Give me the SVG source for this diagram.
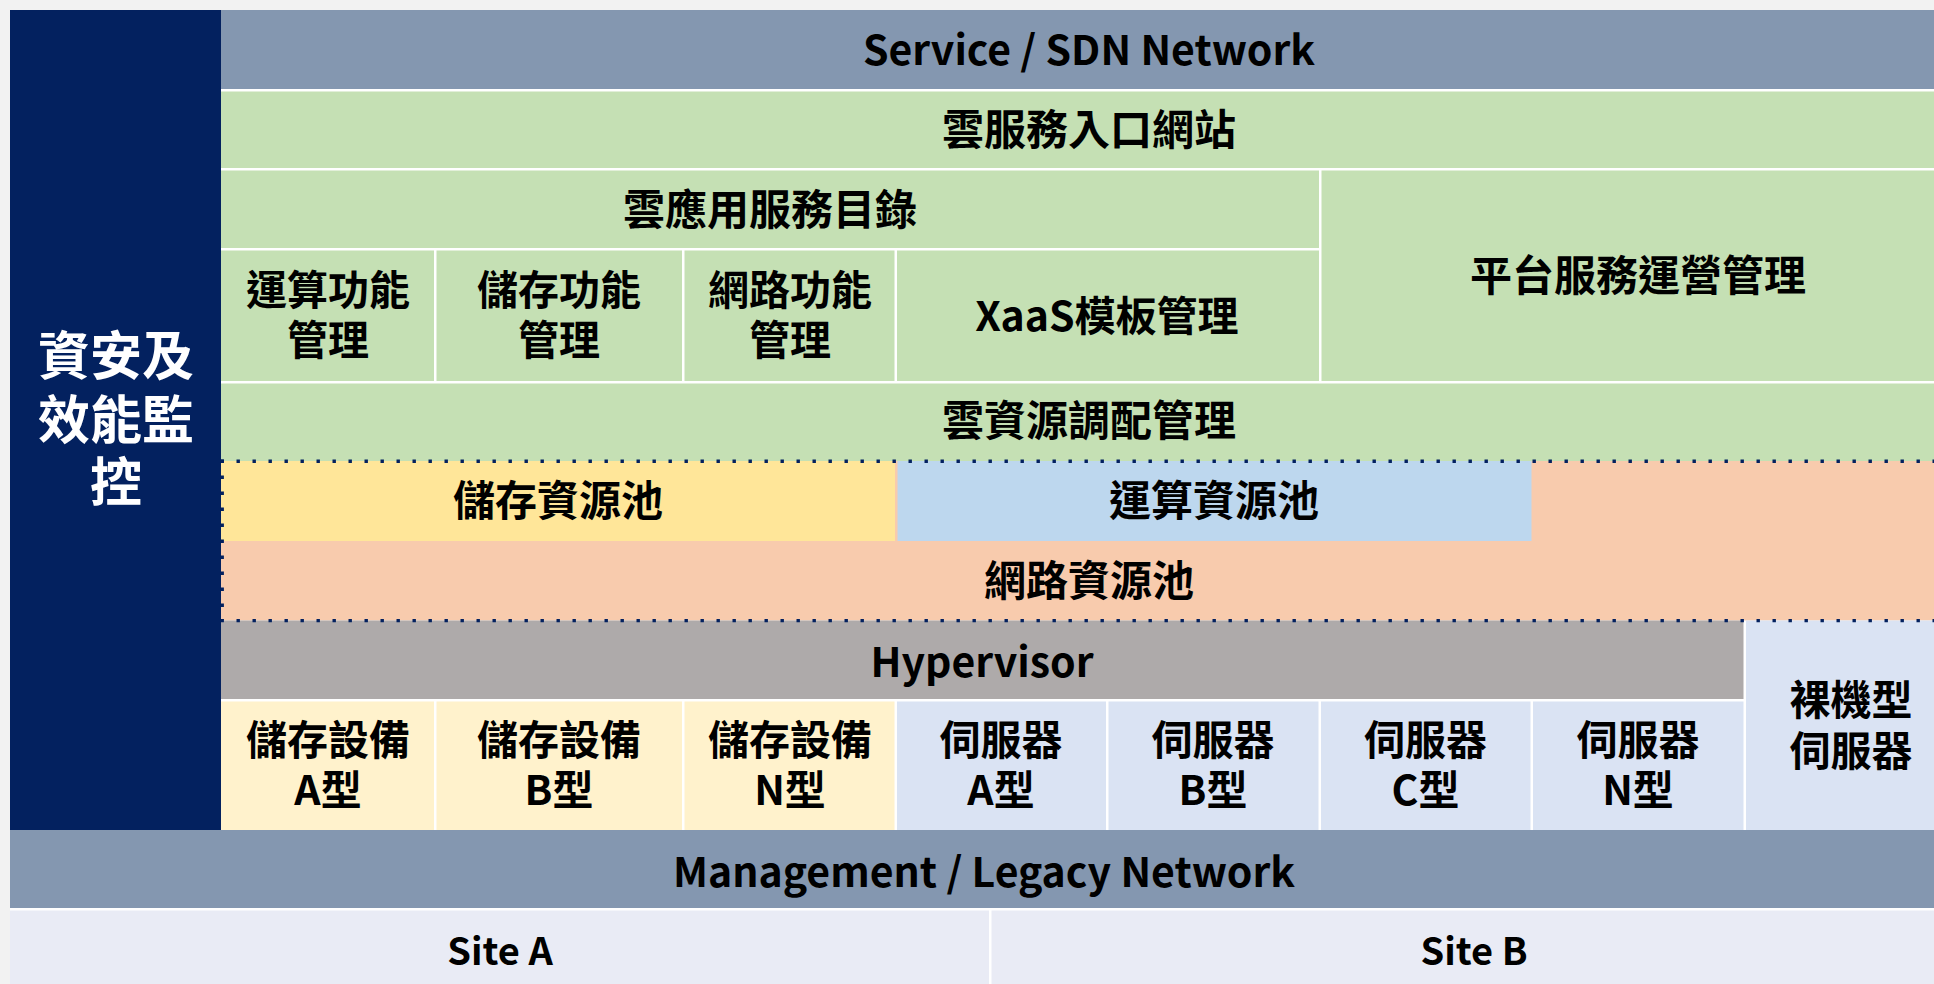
<svg xmlns="http://www.w3.org/2000/svg" width="1934" height="984" viewBox="0 0 1934 984">
  <style>
    text { font-family: "Noto Sans CJK TC", "Noto Sans", sans-serif; font-weight: 700; text-anchor: middle; fill: #000; }
    .cjk { font-size: 42px; }
    .cell { font-size: 41px; }
    .lat { font-size: 41px; }
    .side { font-size: 52px; fill: #fff; }
    .site { font-size: 38px; }
    .navy { fill: #03215F; }
    .bar { fill: #8497B0; }
    .green { fill: #C5E0B4; }
    .stor { fill: #FFE699; }
    .comp { fill: #BDD7EE; }
    .net { fill: #F8CBAD; }
    .hyp { fill: #AEAAAA; }
    .sdev { fill: #FFF2CC; }
    .srv { fill: #DAE3F3; }
    .sitef { fill: #E9EBF5; }
    .dots { stroke: #03215F; stroke-width: 3.4; stroke-dasharray: 3.4 12.6; fill: none; }
  </style>
  <rect x="0" y="0" width="1934" height="984" fill="#F2F2F2"/>
  <rect x="10" y="10" width="1924" height="974" fill="#FFFFFF"/>

  <g id="security-monitoring">
    <rect class="navy" x="10" y="10" width="211" height="820"/>
    <text class="side" x="116" y="375"><tspan x="116" y="375">資安及</tspan><tspan x="116" y="439">效能監</tspan><tspan x="116" y="501">控</tspan></text>
  </g>

  <g id="service-sdn-network">
    <rect class="bar" x="221" y="10" width="1713" height="79"/>
    <text class="lat" x="1089" y="65">Service / SDN Network</text>
  </g>

  <g id="cloud-portal">
    <rect class="green" x="221" y="91.5" width="1713" height="76.5"/>
    <text class="cjk" x="1089" y="145">雲服務入口網站</text>
  </g>

  <g id="app-catalog">
    <rect class="green" x="221" y="170.5" width="1098" height="77.5"/>
    <text class="cjk" x="770" y="224.5">雲應用服務目錄</text>
  </g>

  <g id="platform-ops">
    <rect class="green" x="1321.5" y="170.5" width="612.5" height="210.5"/>
    <text class="cjk" x="1638" y="291">平台服務運營管理</text>
  </g>

  <g id="compute-func">
    <rect class="green" x="221" y="250.5" width="213" height="130.5"/>
    <text class="cell"><tspan x="328" y="305">運算功能</tspan><tspan x="328" y="355">管理</tspan></text>
  </g>
  <g id="storage-func">
    <rect class="green" x="436.5" y="250.5" width="245.5" height="130.5"/>
    <text class="cell"><tspan x="559" y="305">儲存功能</tspan><tspan x="559" y="355">管理</tspan></text>
  </g>
  <g id="network-func">
    <rect class="green" x="684.5" y="250.5" width="210" height="130.5"/>
    <text class="cell"><tspan x="790" y="305">網路功能</tspan><tspan x="790" y="355">管理</tspan></text>
  </g>
  <g id="xaas-template">
    <rect class="green" x="897" y="250.5" width="422" height="130.5"/>
    <text class="cell" x="1107" y="330.5">XaaS模板管理</text>
  </g>

  <g id="resource-orchestration">
    <rect class="green" x="221" y="383.5" width="1713" height="77.5"/>
    <text class="cjk" x="1089" y="436">雲資源調配管理</text>
  </g>

  <g id="network-pool">
    <rect class="net" x="221" y="461" width="1713" height="159.5"/>
    <text class="cjk" x="1089" y="596">網路資源池</text>
  </g>
  <g id="storage-pool">
    <rect class="stor" x="221" y="461" width="674" height="80"/>
    <text class="cjk" x="558" y="516">儲存資源池</text>
  </g>
  <g id="compute-pool">
    <rect class="comp" x="897.5" y="461" width="634" height="80"/>
    <text class="cjk" x="1214" y="516">運算資源池</text>
  </g>

  <g id="hypervisor">
    <rect class="hyp" x="221" y="620.5" width="1522.5" height="78.5"/>
    <text class="lat" x="982" y="677">Hypervisor</text>
  </g>

  <g id="bare-metal">
    <rect class="srv" x="1746" y="620.5" width="188" height="209.5"/>
    <text class="cell"><tspan x="1851" y="714.5">裸機型</tspan><tspan x="1851" y="766">伺服器</tspan></text>
  </g>

  <g id="storage-a">
    <rect class="sdev" x="221" y="701.5" width="213" height="128.5"/>
    <text class="cell"><tspan x="328" y="754.5">儲存設備</tspan><tspan x="328" y="804.5">A型</tspan></text>
  </g>
  <g id="storage-b">
    <rect class="sdev" x="436.5" y="701.5" width="245.5" height="128.5"/>
    <text class="cell"><tspan x="559" y="754.5">儲存設備</tspan><tspan x="559" y="804.5">B型</tspan></text>
  </g>
  <g id="storage-n">
    <rect class="sdev" x="684.5" y="701.5" width="210" height="128.5"/>
    <text class="cell"><tspan x="790" y="754.5">儲存設備</tspan><tspan x="790" y="804.5">N型</tspan></text>
  </g>
  <g id="server-a">
    <rect class="srv" x="897" y="701.5" width="209" height="128.5"/>
    <text class="cell"><tspan x="1001" y="754.5">伺服器</tspan><tspan x="1001" y="804.5">A型</tspan></text>
  </g>
  <g id="server-b">
    <rect class="srv" x="1108.5" y="701.5" width="210" height="128.5"/>
    <text class="cell"><tspan x="1213" y="754.5">伺服器</tspan><tspan x="1213" y="804.5">B型</tspan></text>
  </g>
  <g id="server-c">
    <rect class="srv" x="1321" y="701.5" width="209.5" height="128.5"/>
    <text class="cell"><tspan x="1425.5" y="754.5">伺服器</tspan><tspan x="1425.5" y="804.5">C型</tspan></text>
  </g>
  <g id="server-n">
    <rect class="srv" x="1533" y="701.5" width="210.5" height="128.5"/>
    <text class="cell"><tspan x="1638" y="754.5">伺服器</tspan><tspan x="1638" y="804.5">N型</tspan></text>
  </g>

  <g id="management-network">
    <rect class="bar" x="10" y="830" width="1924" height="78"/>
    <text class="lat" x="984" y="887">Management / Legacy Network</text>
  </g>

  <g id="site-a">
    <rect class="sitef" x="10" y="910.5" width="979" height="73.5"/>
    <text class="site" x="500" y="965">Site A</text>
  </g>
  <g id="site-b">
    <rect class="sitef" x="991.5" y="910.5" width="942.5" height="73.5"/>
    <text class="site" x="1474" y="965">Site B</text>
  </g>

  <g id="connectors">
    <path class="dots" d="M220.5 461.3 H1934"/>
    <path class="dots" d="M220.5 620.6 H1934"/>
    <path class="dots" d="M222.2 459.6 V620"/>
  </g>
</svg>
